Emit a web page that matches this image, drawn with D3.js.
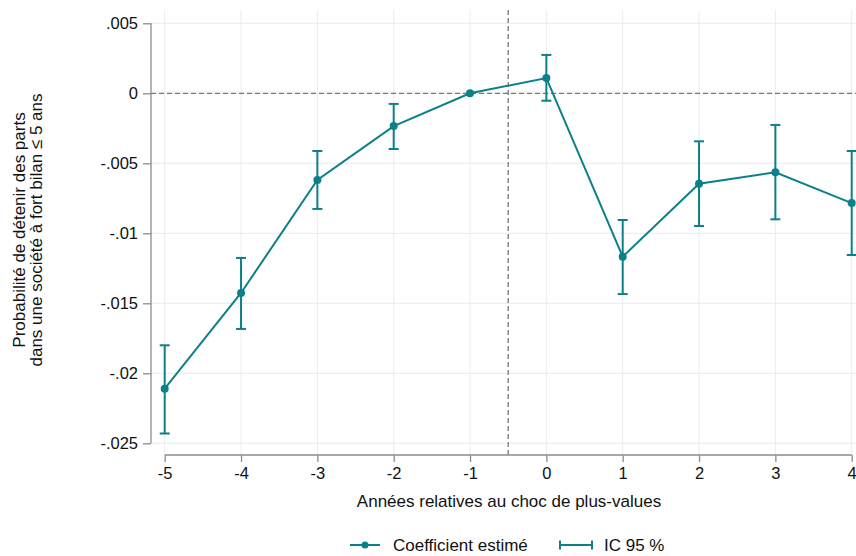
<!DOCTYPE html>
<html><head><meta charset="utf-8">
<script src="https://cdn.jsdelivr.net/npm/d3@7"></script>
<style>body{margin:0;background:#fff}svg{display:block;font-family:"Liberation Sans",Arial,sans-serif}</style>
</head><body><svg id="c" width="856" height="556"></svg>
<script>
const years = [-5,-4,-3,-2,-1,0,1,2,3,4];
const coef  = [-0.0211,-0.01426,-0.00619,-0.00234,0,0.00109,-0.01167,-0.00646,-0.00564,-0.00784];
const ciLow = [-0.0243,-0.01683,-0.00826,-0.00398,null,-0.00053,-0.01434,-0.00948,-0.0090,-0.01155];
const ciHigh= [-0.0180,-0.01176,-0.00412,-0.00076,null,0.00274,-0.00905,-0.00343,-0.00226,-0.00412];
const yTicks = [0.005,0,-0.005,-0.01,-0.015,-0.02,-0.025];
const yTickLabels = [".005","0","-.005","-.01","-.015","-.02","-.025"];
const xTicks = years;
const yTitle = ["Probabilité de détenir des parts","dans une société à fort bilan ≤ 5 ans"];
const xTitle = "Années relatives au choc de plus-values";
const legendLabels = ["Coefficient estimé","IC 95 %"];

const color = "#0b8089", grid = "#ececec", axisC = "#8c8c8c";
const svg = d3.select("#c");
const x = d3.scaleLinear().domain([-5,4]).range([164.7,851.7]);
const y = d3.scaleLinear().domain([0.005,-0.025]).range([23.3,443.3]);
const plotL = 151, plotR = 856, plotT = 10, plotB = 455;
const tickFont = 16.5, titleFont = 17;

// grid
svg.append("g").selectAll("line").data(yTicks).join("line")
  .attr("x1",plotL).attr("x2",plotR).attr("y1",d=>y(d)).attr("y2",d=>y(d))
  .attr("stroke",grid).attr("stroke-width",1);
svg.append("g").selectAll("line").data(xTicks).join("line")
  .attr("x1",d=>x(d)).attr("x2",d=>x(d)).attr("y1",plotT).attr("y2",plotB)
  .attr("stroke",grid).attr("stroke-width",1);

// reference lines
svg.append("line").attr("x1",plotL).attr("x2",plotR).attr("y1",y(0)).attr("y2",y(0))
  .attr("stroke","#777").attr("stroke-width",1.3).attr("stroke-dasharray","5,3");
svg.append("line").attr("x1",x(-0.5)).attr("x2",x(-0.5)).attr("y1",plotT).attr("y2",plotB)
  .attr("stroke","#777").attr("stroke-width",1.3).attr("stroke-dasharray","5,3");

// y axis
const yAxis = d3.axisLeft(y).tickValues(yTicks).tickFormat((d,i)=>yTickLabels[i]).tickSize(8).tickPadding(5);
const gy = svg.append("g").attr("transform",`translate(${plotL},0)`).call(yAxis);
gy.select(".domain").attr("stroke",axisC).attr("stroke-width",1.3).attr("d",`M0,${y(0.005)}V${y(-0.025)}`);
gy.selectAll(".tick line").attr("stroke",axisC).attr("stroke-width",1.3);
gy.selectAll(".tick text").attr("font-size",tickFont).attr("fill","#111").attr("font-family","Liberation Sans, Arial, sans-serif");

// x axis
const xAxis = d3.axisBottom(x).tickValues(xTicks).tickFormat(d=>d).tickSize(7).tickPadding(5);
const gx = svg.append("g").attr("transform",`translate(0,${plotB})`).call(xAxis);
gx.select(".domain").attr("stroke",axisC).attr("stroke-width",1.3).attr("d",`M${x(-5)},0H${x(4)}`);
gx.selectAll(".tick line").attr("stroke",axisC).attr("stroke-width",1.3);
gx.selectAll(".tick text").attr("font-size",tickFont).attr("fill","#111").attr("font-family","Liberation Sans, Arial, sans-serif");

// titles
svg.append("text").attr("x",509).attr("y",507).attr("text-anchor","middle").attr("font-size",titleFont).attr("fill","#111").text(xTitle);
const yt = svg.append("text").attr("transform","translate(0,230) rotate(-90)").attr("text-anchor","middle").attr("font-size",titleFont).attr("fill","#111");
yt.append("tspan").attr("x",0).attr("y",25).text(yTitle[0]);
yt.append("tspan").attr("x",0).attr("y",42).text(yTitle[1]);

// CI
const ci = years.map((d,i)=>({x:d,lo:ciLow[i],hi:ciHigh[i]})).filter(d=>d.lo!==null);
const gci = svg.append("g").attr("stroke",color).attr("stroke-width",2);
gci.selectAll(".v").data(ci).join("line").attr("x1",d=>x(d.x)).attr("x2",d=>x(d.x)).attr("y1",d=>y(d.lo)).attr("y2",d=>y(d.hi));
gci.selectAll(".t").data(ci).join("line").attr("x1",d=>x(d.x)-5).attr("x2",d=>x(d.x)+5).attr("y1",d=>y(d.hi)).attr("y2",d=>y(d.hi));
gci.selectAll(".b").data(ci).join("line").attr("x1",d=>x(d.x)-5).attr("x2",d=>x(d.x)+5).attr("y1",d=>y(d.lo)).attr("y2",d=>y(d.lo));

// line & points
const pts = years.map((d,i)=>({x:d,v:coef[i]}));
svg.append("path").datum(pts).attr("fill","none").attr("stroke",color).attr("stroke-width",2)
  .attr("d",d3.line().x(d=>x(d.x)).y(d=>y(d.v)));
svg.append("g").selectAll("circle").data(pts).join("circle")
  .attr("cx",d=>x(d.x)).attr("cy",d=>y(d.v)).attr("r",4).attr("fill",color);

// legend
const ly = 545;
svg.append("line").attr("x1",350).attr("x2",380).attr("y1",ly).attr("y2",ly).attr("stroke",color).attr("stroke-width",2);
svg.append("circle").attr("cx",365).attr("cy",ly).attr("r",3.5).attr("fill",color);
svg.append("text").attr("x",393).attr("y",ly+6).attr("font-size",titleFont).attr("fill","#111").text(legendLabels[0]);
const lg = svg.append("g").attr("stroke",color).attr("stroke-width",2);
lg.append("line").attr("x1",560).attr("x2",592).attr("y1",ly).attr("y2",ly);
lg.append("line").attr("x1",560).attr("x2",560).attr("y1",ly-4.5).attr("y2",ly+4.5);
lg.append("line").attr("x1",592).attr("x2",592).attr("y1",ly-4.5).attr("y2",ly+4.5);
svg.append("text").attr("x",604).attr("y",ly+6).attr("font-size",titleFont).attr("fill","#111").text(legendLabels[1]);
</script></body></html>
